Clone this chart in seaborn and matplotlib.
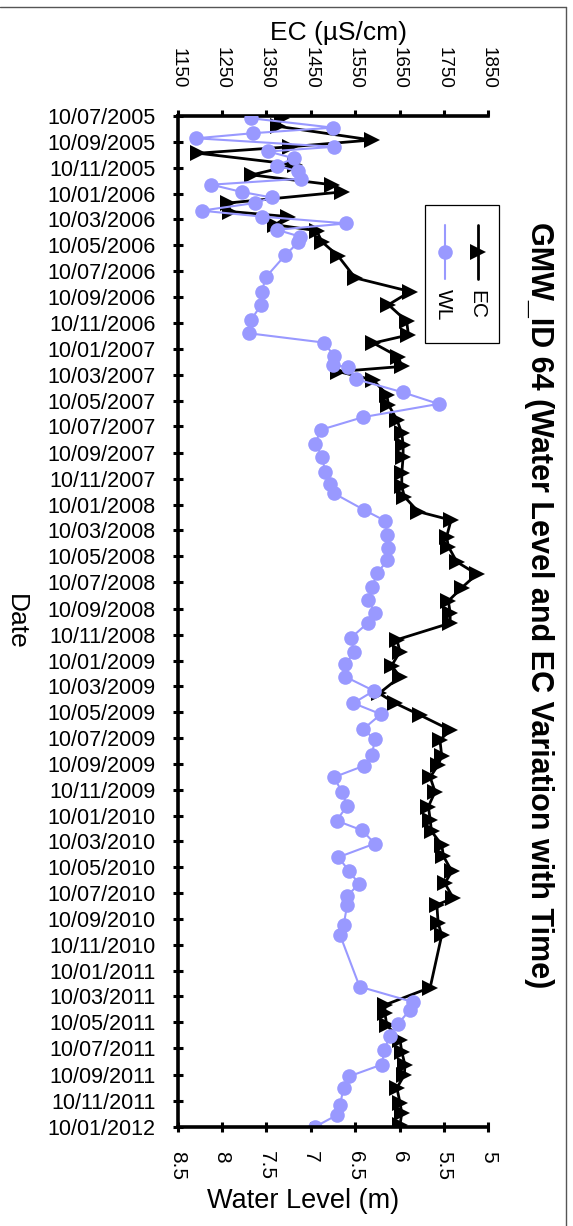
import pandas as pd
import seaborn as sns
import matplotlib.pyplot as plt
import matplotlib.dates as mdates
from matplotlib.lines import Line2D
from matplotlib.patches import Rectangle
from matplotlib.ticker import FuncFormatter

# Water level (m) readings
wl_dates = [
    "2005-07-16", "2005-08-07", "2005-08-20", "2005-09-01", "2005-09-21", "2005-10-02",
    "2005-10-18", "2005-11-04", "2005-11-18", "2005-12-05", "2005-12-19", "2006-01-05",
    "2006-01-18", "2006-01-31", "2006-02-18", "2006-03-04", "2006-03-20", "2006-04-04",
    "2006-04-20", "2006-05-03", "2006-06-03", "2006-07-25", "2006-08-27", "2006-09-27",
    "2006-11-01", "2006-12-03", "2006-12-25", "2007-01-25", "2007-02-15", "2007-02-21",
    "2007-03-21", "2007-04-21", "2007-05-18", "2007-06-18", "2007-07-18", "2007-08-20",
    "2007-09-19", "2007-10-26", "2007-11-22", "2007-12-14", "2008-01-22", "2008-02-17",
    "2008-03-21", "2008-04-21", "2008-05-19", "2008-06-19", "2008-07-20", "2008-08-20",
    "2008-09-20", "2008-10-14", "2008-11-18", "2008-12-20", "2009-01-19", "2009-02-17",
    "2009-03-22", "2009-04-20", "2009-05-16", "2009-06-20", "2009-07-14", "2009-08-20",
    "2009-09-14", "2009-10-11", "2009-11-14", "2009-12-17", "2010-01-21", "2010-02-13",
    "2010-03-16", "2010-04-17", "2010-05-19", "2010-06-18", "2010-07-18", "2010-08-07",
    "2010-09-23", "2010-10-17", "2011-02-15", "2011-03-23", "2011-04-10", "2011-05-14",
    "2011-06-10", "2011-07-13", "2011-08-17", "2011-09-14", "2011-10-10", "2011-11-19",
    "2011-12-13", "2012-01-10",
]
wl_values = [
    7.67, 6.75, 7.65, 8.29, 6.74, 7.48, 7.19, 7.38, 7.14, 7.11, 8.12, 7.78,
    7.44, 7.63, 8.23, 7.55, 6.60, 7.38, 7.12, 7.14, 7.29, 7.51, 7.55, 7.56,
    7.67, 7.70, 6.85, 6.74, 6.75, 6.58, 6.49, 5.96, 5.56, 6.41, 6.89, 6.95,
    6.87, 6.84, 6.78, 6.74, 6.40, 6.16, 6.14, 6.13, 6.14, 6.25, 6.31, 6.35,
    6.28, 6.36, 6.55, 6.51, 6.61, 6.61, 6.29, 6.52, 6.21, 6.41, 6.28, 6.31,
    6.40, 6.74, 6.65, 6.59, 6.71, 6.42, 6.28, 6.69, 6.57, 6.46, 6.59, 6.59,
    6.63, 6.67, 6.45, 5.85, 5.88, 6.02, 6.11, 6.17, 6.20, 6.57, 6.63, 6.67,
    6.70, 6.95,
]

# EC (uS/cm) readings
ec_dates = [
    "2005-07-15", "2005-08-04", "2005-09-05", "2005-09-21", "2005-10-06", "2005-11-02",
    "2005-11-26", "2005-12-19", "2006-01-05", "2006-01-31", "2006-02-20", "2006-03-04",
    "2006-03-23", "2006-04-06", "2006-05-02", "2006-06-05", "2006-07-26", "2006-08-27",
    "2006-09-27", "2006-11-05", "2006-12-07", "2006-12-26", "2007-01-27", "2007-02-19",
    "2007-03-03", "2007-03-23", "2007-04-26", "2007-05-20", "2007-06-24", "2007-07-26",
    "2007-08-22", "2007-09-19", "2007-10-28", "2007-11-28", "2007-12-22", "2008-01-26",
    "2008-02-15", "2008-03-25", "2008-04-17", "2008-05-23", "2008-06-21", "2008-07-23",
    "2008-08-23", "2008-09-20", "2008-10-14", "2008-11-22", "2008-12-20", "2009-01-22",
    "2009-02-17", "2009-03-28", "2009-04-20", "2009-05-18", "2009-06-22", "2009-07-16",
    "2009-08-22", "2009-09-12", "2009-10-11", "2009-11-14", "2009-12-19", "2010-01-19",
    "2010-02-15", "2010-03-19", "2010-04-15", "2010-05-20", "2010-06-17", "2010-07-22",
    "2010-08-07", "2010-09-19", "2010-10-17", "2011-02-17", "2011-03-30", "2011-04-18",
    "2011-05-16", "2011-06-20", "2011-07-18", "2011-08-17", "2011-09-10", "2011-10-11",
    "2011-11-15", "2011-12-09", "2012-01-06",
]
ec_values = [
    1384, 1377, 1587, 1403, 1196, 1414, 1317, 1497, 1520, 1264, 1268, 1399,
    1369, 1463, 1475, 1512, 1550, 1674, 1625, 1666, 1670, 1591, 1647, 1655,
    1512, 1591, 1621, 1625, 1644, 1655, 1658, 1658, 1655, 1655, 1661, 1692,
    1766, 1756, 1760, 1779, 1824, 1790, 1760, 1764, 1764, 1644, 1651, 1632,
    1651, 1604, 1640, 1696, 1764, 1741, 1745, 1737, 1719, 1730, 1715, 1719,
    1722, 1745, 1749, 1768, 1752, 1771, 1734, 1737, 1745, 1719, 1617, 1617,
    1621, 1651, 1655, 1662, 1661, 1644, 1651, 1655, 1651,
]

wl_ticks = [8.5, 8, 7.5, 7, 6.5, 6, 5.5, 5]
ec_ticks = [1150, 1250, 1350, 1450, 1550, 1650, 1750, 1850]
date_start = "2005-07-10"
date_end = "2012-01-10"

WL_COLOR = "#9999ff"
EC_COLOR = "black"


def main():
    sns.set_theme(style="white")
    plt.rcParams["font.family"] = ["Liberation Sans", "DejaVu Sans"]
    plt.rcParams["text.color"] = "black"
    plt.rcParams["axes.labelcolor"] = "black"

    wl = pd.DataFrame({"Date": pd.to_datetime(wl_dates), "WL": wl_values})
    ec = pd.DataFrame({"Date": pd.to_datetime(ec_dates), "EC": ec_values})

    fig = plt.figure(figsize=(5.73, 12.26), dpi=100)
    ax = fig.add_axes([0.3101, 0.0810, 0.5421, 0.8246])
    ax2 = ax.twiny()
    ax.set_zorder(2)
    ax2.set_zorder(1)
    ax.patch.set_visible(False)

    # EC on the top axis, drawn below water level
    sns.lineplot(data=ec, x="EC", y="Date", ax=ax2, sort=False, estimator=None,
                 orient="y", color=EC_COLOR, linewidth=2.0, marker=">",
                 markersize=11.5, markeredgecolor=EC_COLOR, markeredgewidth=0,
                 legend=False)
    sns.lineplot(data=wl, x="WL", y="Date", ax=ax, sort=False, estimator=None,
                 orient="y", color=WL_COLOR, linewidth=1.5, marker="o",
                 markersize=10.5, markeredgecolor=WL_COLOR, markeredgewidth=0,
                 legend=False)

    ax.set_ylim(pd.Timestamp(date_end), pd.Timestamp(date_start))
    ax.yaxis.set_major_locator(mdates.MonthLocator(bymonth=(1, 3, 5, 7, 9, 11), bymonthday=10))
    ax.yaxis.set_major_formatter(mdates.DateFormatter("%d/%m/%Y"))

    ax.set_xlim(wl_ticks[0], wl_ticks[-1])
    ax.set_xticks(wl_ticks)
    ax.xaxis.set_major_formatter(FuncFormatter(lambda v, p: f"{v:g}"))
    ax2.set_xlim(ec_ticks[0], ec_ticks[-1])
    ax2.set_xticks(ec_ticks)

    for a in (ax, ax2):
        a.set_xlabel("")
        a.set_ylabel("")
        for s in a.spines.values():
            s.set_visible(False)
            s.set_color("black")
            s.set_linewidth(2.6)
    ax.spines["left"].set_visible(True)
    ax.spines["bottom"].set_visible(True)
    ax2.spines["top"].set_visible(True)

    ax.tick_params(axis="y", which="major", left=True, direction="inout", length=7,
                   width=2.2, pad=12.5, labelsize=15.5, colors="black")
    ax.tick_params(axis="x", which="major", bottom=True, direction="inout", length=7.5,
                   width=2.2, pad=14, labelsize=15, labelrotation=-90, colors="black")
    ax2.tick_params(axis="x", which="major", top=True, direction="out", length=4.5,
                    width=2.2, pad=15, labelsize=13.5, labelrotation=-90, colors="black")
    ax2.tick_params(axis="y", left=False, right=False, labelleft=False, labelright=False)

    # Axis titles and chart title (chart is laid out rotated)
    fig.text(0.590, 0.973, "EC (µS/cm)", ha="center", va="center", fontsize=19,
             color="black")
    fig.text(0.529, 0.0204, "Water Level (m)", ha="center", va="center", fontsize=19.5,
             color="black")
    fig.text(0.028, 0.493, "Date", ha="center", va="center", rotation=-90, fontsize=19,
             color="black")
    fig.text(0.940, 0.5065, "GMW_ID 64 (Water Level and EC Variation with Time)",
             ha="center", va="center", rotation=-90, fontsize=22, fontweight="bold",
             color="black")

    # Legend drawn by hand in rotated form
    fig.add_artist(Rectangle((0.7417, 0.7202), 0.1292, 0.1126, transform=fig.transFigure,
                             facecolor="white", edgecolor="black", linewidth=0.9, zorder=5))
    for xf, col, mk, lw, ms, label in [
        (0.8347, EC_COLOR, ">", 2.0, 11.5, "EC"),
        (0.7766, WL_COLOR, "o", 1.5, 10.5, "WL"),
    ]:
        fig.add_artist(Line2D([xf, xf], [0.8165, 0.7724], transform=fig.transFigure,
                              color=col, linewidth=lw, zorder=6))
        fig.add_artist(Line2D([xf], [0.7945], transform=fig.transFigure, color=col,
                              marker=mk, markersize=ms, markeredgewidth=0, zorder=7))
        fig.text(xf - 0.002, 0.7515, label, ha="center", va="center", rotation=-90,
                 fontsize=15, color="black", zorder=8)

    # chart area border
    fig.add_artist(Line2D([0.0, 0.9878], [0.9943, 0.9943], transform=fig.transFigure,
                          color="#555555", linewidth=1))
    fig.add_artist(Line2D([0.9878, 0.9878], [0.0, 0.9943], transform=fig.transFigure,
                          color="#555555", linewidth=1))

    fig.savefig("out.png", dpi=100)


if __name__ == "__main__":
    main()
